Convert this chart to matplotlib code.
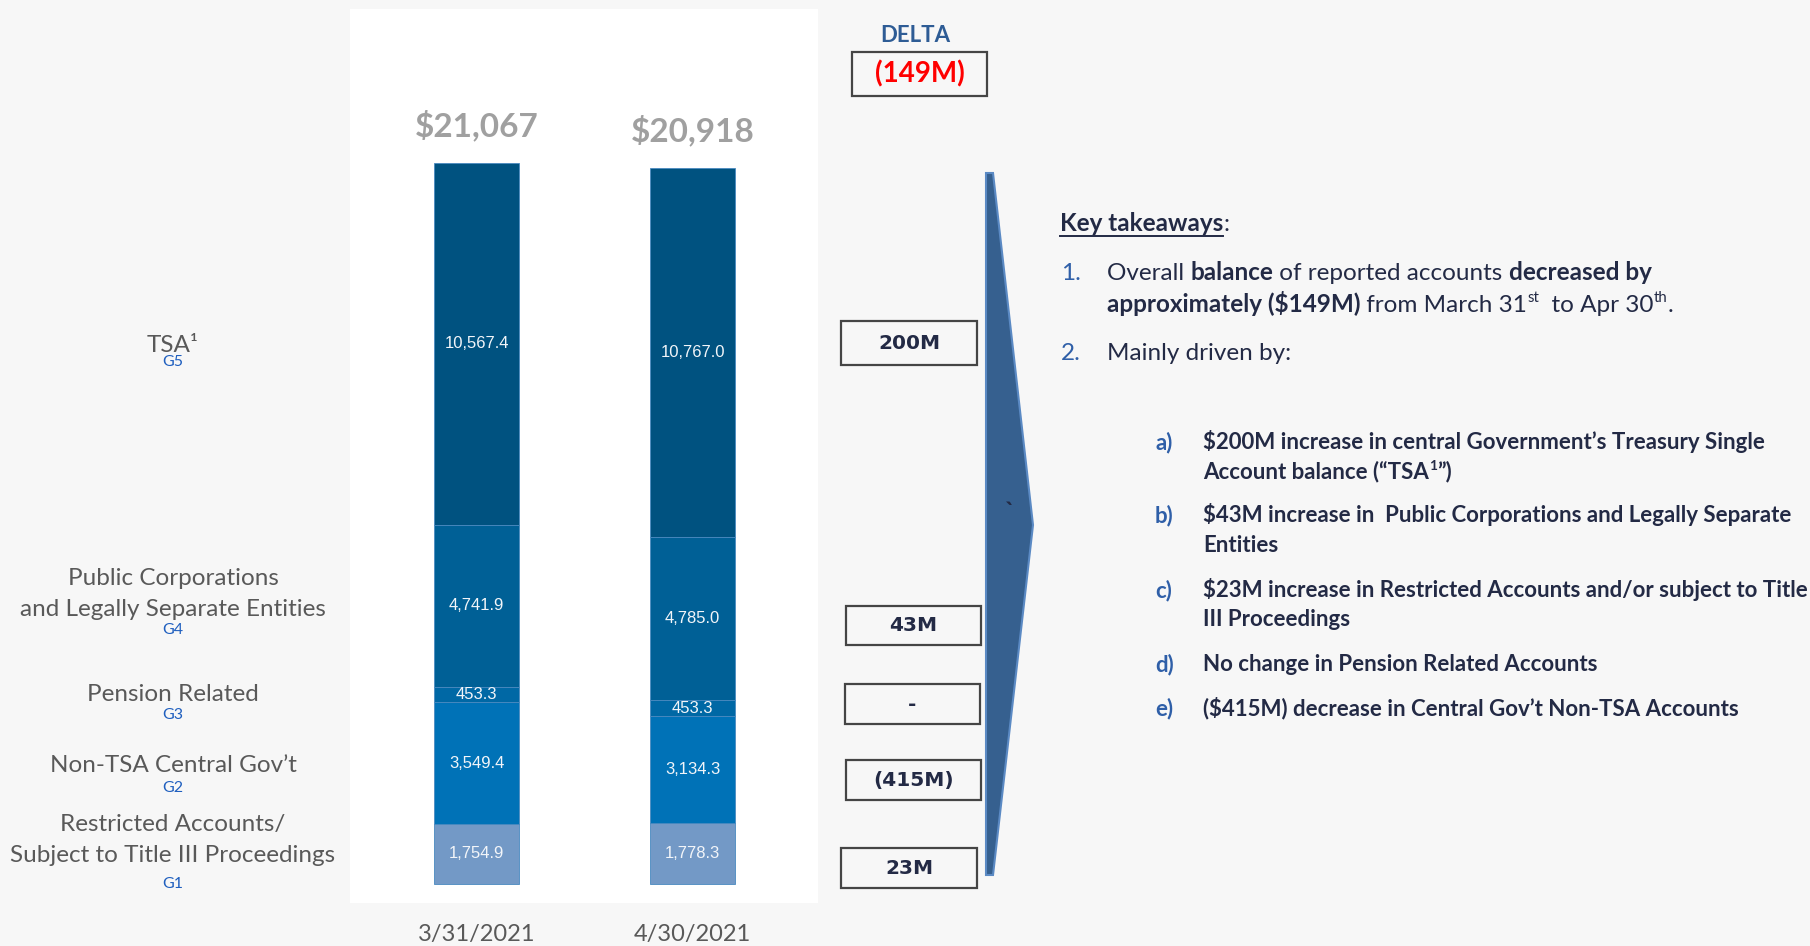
import matplotlib
matplotlib.use('Agg')
import matplotlib.pyplot as plt
import matplotlib.transforms as mtransforms
from matplotlib.patches import Polygon, Rectangle

# chart data (millions)
dates = ['3/31/2021', '4/30/2021']
groups = ['G1', 'G2', 'G3', 'G4', 'G5']
group_names = ['Restricted Accounts/\nSubject to Title III Proceedings',
               'Non-TSA Central Gov\u2019t',
               'Pension Related',
               'Public Corporations\nand Legally Separate Entities',
               'TSA\u00b9']
mar_vals = [1754.9, 3549.4, 453.3, 4741.9, 10567.4]
apr_vals = [1778.3, 3134.3, 453.3, 4785.0, 10767.0]
totals = ['$21,067', '$20,918']
delta_total = '(149M)'
delta_labels = ['23M', '(415M)', '-', '43M', '200M']

W, H = 1810, 946
BG = '#F7F7F7'
NAVY = '#232A45'
BLUE = '#2F5FA8'
seg_colors = ['#7399C6', '#0072B7', '#0068A5', '#006096', '#005280']
FONT = 'Lato'

fig = plt.figure(figsize=(W / 100, H / 100), dpi=100, facecolor=BG)
ident = mtransforms.IdentityTransform()


def px(x, y):
    # top-left pixel coords -> display coords
    return x, H - y


# ---- stacked bars ----
ax = fig.add_axes([350 / W, 43 / H, 468 / W, 894 / H])
ax.set_facecolor('white')
ax.set_xlim(-0.586, 1.581)
ax.set_ylim(-555, 25570)
ax.set_xticks([])
ax.set_yticks([])
for s in ax.spines.values():
    s.set_visible(False)

for i, vals in enumerate([mar_vals, apr_vals]):
    bottom = 0
    for j, v in enumerate(vals):
        ax.bar(i, v, bottom=bottom, width=0.394, color=seg_colors[j],
               edgecolor='#4a8ac0', linewidth=0.6)
        ax.text(i, bottom + v / 2, f'{v:,.1f}', ha='center', va='center',
                color='#F2F5F9', fontsize=12, family='Liberation Sans')
        bottom += v
    ax.annotate(totals[i], xy=(i, bottom), xytext=(0, 38), textcoords='offset pixels',
                ha='center', va='center', fontsize=24, fontweight='bold',
                color='#A0A0A0', family=FONT)
    ax.annotate(dates[i], xy=(i, 0), xytext=(0, -50), textcoords='offset pixels',
                ha='center', va='center', fontsize=17, color='#595959', family=FONT,
                annotation_clip=False)

# ---- category labels on the left ----
blend = mtransforms.blended_transform_factory(fig.transFigure, ax.transData)
name_dy = [-14, 2, 0, -12, 2]      # pixel offsets of the name from segment centre
tag_dy = [30, 25, 20, 24, 18]      # pixel offsets of the Gx tag
bottom = 0
for j, v in enumerate(mar_vals):
    c = bottom + v / 2
    ax.annotate(group_names[j], xy=(173 / W, c), xycoords=blend,
                xytext=(0, -name_dy[j]), textcoords='offset pixels',
                ha='center', va='center', fontsize=17.5, color='#595959',
                family=FONT, linespacing=1.55, annotation_clip=False)
    ax.annotate(groups[j], xy=(173 / W, c), xycoords=blend,
                xytext=(0, -tag_dy[j]), textcoords='offset pixels',
                ha='center', va='center', fontsize=11.5, color='#1F5FBF',
                family=FONT, annotation_clip=False)
    bottom += v

# ---- delta column ----
fig.text(*px(915, 35), 'DELTA', transform=ident, ha='center', va='center',
         fontsize=16, fontweight='bold', color='#2E5C95', family=FONT)


def box(x0, y0, x1, y1, label, color, fam, size):
    fig.add_artist(Rectangle((x0, H - y1), x1 - x0, y1 - y0, transform=ident,
                             facecolor=BG, edgecolor='#454545', linewidth=1.6))
    fig.text((x0 + x1) / 2, H - (y0 + y1) / 2, label, transform=ident,
             ha='center', va='center', fontsize=size, fontweight='bold',
             color=color, family=fam)


box(852, 52, 987, 96, delta_total, '#FF0000', FONT, 20)

box_rects = [(841, 848, 977, 888), (846, 760, 981, 800), (845, 684, 980, 724),
             (846, 606, 981, 645), (841, 321, 977, 365)]
for lab, (x0, y0, x1, y1) in zip(delta_labels, box_rects):
    box(x0, y0, x1, y1, lab, NAVY, 'DejaVu Sans', 14.5)

arrow = Polygon([px(986, 173), px(993, 173), px(1033, 525), px(993, 875), px(986, 875)],
                closed=True, transform=ident, facecolor='#36608F',
                edgecolor='#5B8AC4', linewidth=1.5)
fig.add_artist(arrow)
fig.text(*px(1010, 512), '`', transform=ident, ha='center', va='center',
         fontsize=18, fontweight='bold', color=NAVY, family=FONT)

# ---- key takeaways text ----
renderer = fig.canvas.get_renderer()


def runs(x, y, parts, size):
    # parts: (text, bold, color, scale, rise)
    x1 = x
    for txt, bold, color, scale, rise in parts:
        t = fig.text(x1, H - y + rise, txt, transform=ident, ha='left', va='baseline',
                     fontsize=size * scale, fontweight='bold' if bold else 'normal',
                     color=color, family=FONT)
        x1 = t.get_window_extent(renderer).x1
    return x1


xe = runs(1060, 231, [('Key takeaways', True, NAVY, 1, 0)], 17.5)
fig.add_artist(plt.Line2D([1060, xe], [H - 236, H - 236], transform=ident,
                          color=NAVY, linewidth=1.4))
runs(xe, 231, [(':', False, NAVY, 1, 0)], 17.5)

runs(1061, 280, [('1.', False, BLUE, 1, 0)], 17.5)
runs(1107, 280, [('Overall ', False, NAVY, 1, 0), ('balance', True, NAVY, 1, 0),
                 (' of reported accounts ', False, NAVY, 1, 0),
                 ('decreased by', True, NAVY, 1, 0)], 17.5)
runs(1107, 312, [('approximately ($149M)', True, NAVY, 1, 0),
                 (' from March 31', False, NAVY, 1, 0), ('st', False, NAVY, 0.62, 10),
                 ('  to Apr 30', False, NAVY, 1, 0), ('th', False, NAVY, 0.62, 10),
                 ('.', False, NAVY, 1, 0)], 17.5)
runs(1061, 360, [('2.', False, BLUE, 1, 0)], 17.5)
runs(1107, 360, [('Mainly driven by:', False, NAVY, 1, 0)], 17.5)

items = [
    ('a)', [[('$200M increase in central Government\u2019s Treasury Single', True, NAVY, 1, 0)],
            [('Account balance (\u201cTSA', True, NAVY, 1, 0), ('1', True, NAVY, 0.62, 8),
             ('\u201d)', True, NAVY, 1, 0)]]),
    ('b)', [[('$43M increase in  Public Corporations and Legally Separate', True, NAVY, 1, 0)],
            [('Entities', True, NAVY, 1, 0)]]),
    ('c)', [[('$23M increase in Restricted Accounts and/or subject to Title', True, NAVY, 1, 0)],
            [('III Proceedings', True, NAVY, 1, 0)]]),
    ('d)', [[('No change in Pension Related Accounts', True, NAVY, 1, 0)]]),
    ('e)', [[('($415M) decrease in Central Gov\u2019t Non-TSA Accounts', True, NAVY, 1, 0)]]),
]
item_y = [[449, 478], [522, 552], [597, 626], [671], [715]]
for (letter, lines), ys in zip(items, item_y):
    runs(1155, ys[0], [(letter, True, BLUE, 1, 0)], 16)
    for parts, yy in zip(lines, ys):
        runs(1203, yy, parts, 16)

fig.savefig('out.png', dpi=100, facecolor=BG)
